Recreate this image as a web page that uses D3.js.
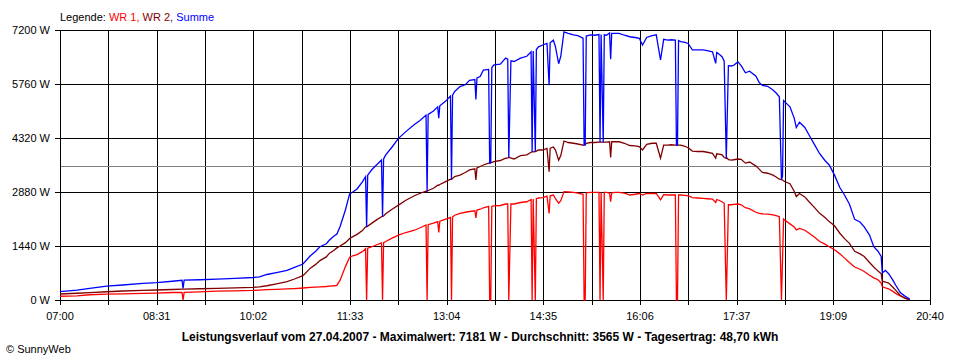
<!DOCTYPE html>
<html><head><meta charset="utf-8">
<script src="https://cdn.jsdelivr.net/npm/d3@7"></script>
<style>
body{margin:0;background:#fff}
svg{display:block}
text{font-family:"Liberation Sans",Arial,sans-serif}
</style>
</head><body>
<svg id="c" width="960" height="360"></svg>
<script>
// ---- data ----
const times = ["07:00","07:16","07:28","07:44","07:59","08:18","08:31","08:46","08:55","08:56","08:57","09:12","09:28","09:45","10:02","10:08","10:15","10:24","10:34","10:41","10:49","10:56","11:01","11:05","11:11","11:14","11:18","11:21","11:24","11:29","11:33","11:36","11:40","11:45","11:48","11:49","11:50","11:54","11:59","12:03","12:04","12:05","12:07","12:13","12:19","12:26","12:34","12:39","12:45","12:46","12:47","12:52","12:56","12:57","12:58","13:03","13:08","13:09","13:10","13:12","13:17","13:22","13:26","13:31","13:32","13:33","13:36","13:39","13:44","13:45","13:46","13:47","13:49","13:55","14:00","14:02","14:03","14:04","14:05","14:08","14:14","14:20","14:24","14:25","14:26","14:28","14:29","14:31","14:35","14:39","14:41","14:42","14:45","14:47","14:50","14:52","14:55","14:59","15:04","15:08","15:13","15:14","15:15","15:16","15:20","15:24","15:28","15:29","15:30","15:32","15:33","15:35","15:38","15:39","15:40","15:43","15:47","15:52","15:57","16:02","16:06","16:09","16:13","16:18","16:22","16:26","16:29","16:33","16:36","16:40","16:41","16:42","16:43","16:45","16:49","16:52","16:56","17:01","17:06","17:10","17:15","17:18","17:19","17:21","17:24","17:26","17:28","17:29","17:30","17:33","17:35","17:39","17:42","17:46","17:50","17:56","17:59","18:02","18:07","18:12","18:15","18:18","18:20","18:21","18:22","18:23","18:28","18:32","18:34","18:37","18:42","18:46","18:51","18:56","19:01","19:05","19:10","19:15","19:19","19:24","19:29","19:34","19:38","19:43","19:47","19:51","19:54","19:55","19:58","20:01","20:05","20:08","20:12","20:16","20:20","20:21"];
const wr1 = [100,110,140,155,165,178,185,200,205,0,205,215,235,245,255,265,275,285,295,305,320,335,345,350,360,370,380,390,530,890,1140,1180,1210,1290,1370,0,1380,1420,1480,1520,0,1530,1560,1650,1730,1800,1860,1920,2000,0,2010,2050,2090,1800,2100,2150,2200,0,2210,2260,2310,2340,2360,2380,2190,2400,2420,2460,2500,0,0,2500,2510,2520,2560,2560,0,1290,2560,2560,2600,2620,2680,0,2690,0,2700,2720,2730,2770,2310,2780,2800,2700,2580,2650,2890,2880,2870,2850,2820,0,0,2860,2870,2870,2870,0,2870,0,2870,2870,2850,2620,2860,2870,2870,2850,2800,2820,2840,2800,2840,2840,2840,2670,2810,2800,2800,2800,0,0,2800,2800,2790,2780,2730,2720,2710,2700,2690,2600,2680,2660,2620,2580,0,1240,2540,2540,2550,2560,2540,2460,2430,2340,2310,2300,2290,2270,2250,2220,0,1070,2160,2130,2030,1950,1870,1910,1860,1780,1680,1560,1490,1420,1340,1230,1130,1000,880,820,760,660,590,540,450,360,320,300,230,170,110,60,15,0];
const wr2 = [160,180,195,220,240,255,267,280,290,290,292,300,310,325,338,350,380,430,490,560,650,850,950,1050,1150,1250,1320,1390,1440,1530,1640,1690,1750,1850,1950,1950,1970,2050,2150,2220,2230,2240,2300,2420,2530,2660,2780,2840,2900,2900,2920,2980,3060,3060,3080,3150,3220,3220,3240,3290,3330,3400,3470,3500,3200,3520,3560,3600,3650,3650,3660,3670,3690,3720,3780,3790,3800,3800,3780,3760,3850,3870,3940,3950,3950,3960,3970,4000,4000,4040,3420,4050,4080,4000,3730,3850,4240,4200,4180,4160,4130,4130,4140,4180,4200,4200,4210,4210,4210,4210,4210,4210,4220,3800,4220,4220,4220,4180,4120,4110,4090,4000,4150,4180,4180,3780,4130,4130,4140,4130,4130,4130,4130,4130,4100,4060,3970,3960,3960,3940,3910,3780,3900,3890,3870,3800,3780,3780,3740,3730,3740,3760,3750,3650,3680,3570,3490,3400,3380,3330,3280,3220,3210,3200,3180,3160,3100,2900,2760,2840,2750,2620,2470,2310,2200,2090,1980,1780,1650,1510,1300,1230,1160,1000,880,770,700,500,480,450,340,250,120,50,15,0];
const summe = [225,265,310,370,400,445,465,500,525,310,530,540,555,575,600,615,680,730,790,870,960,1180,1300,1420,1500,1600,1700,1760,1960,2400,2830,2880,2960,3150,3290,1950,3330,3480,3620,3730,2230,3760,3870,4080,4310,4490,4680,4780,4930,2900,4950,5040,5150,4850,5180,5290,5440,3220,5460,5560,5690,5740,5860,5880,5350,5920,5960,6130,6150,3650,3660,6200,6270,6290,6450,6420,3800,5100,6380,6360,6450,6500,6620,3950,6640,3960,6680,6750,6800,6840,5730,6860,6930,6750,6300,6500,7150,7110,7070,7050,6980,4130,4140,7040,7070,7060,7080,4210,7080,4210,7070,7060,7120,6420,7110,7110,7110,7060,7020,7000,6980,6800,7000,7050,7070,6400,6950,6930,6940,6930,4130,4130,6920,6890,6870,6840,6670,6670,6670,6650,6620,6310,6600,6560,6490,6370,3780,5020,6250,6240,6260,6350,6250,6060,6100,5970,5800,5720,5700,5600,5520,5420,3210,3300,5320,5290,5150,4850,4600,4740,4600,4400,4150,3900,3720,3600,3330,3000,2820,2560,2150,2080,1950,1730,1420,1300,1160,720,790,700,530,380,200,110,40,15];
const yTicks = [0,1440,2880,4320,5760,7200];
const xTickLabels = ["07:00","08:31","10:02","11:33","13:04","14:35","16:06","17:37","19:09","20:40"];
const average = 3565;
const seriesNames = ["WR 1","WR 2","Summe"];
const seriesColors = ["#ff0000","#800000","#0000ff"];
const titleText = "Leistungsverlauf vom 27.04.2007 - Maximalwert: 7181 W - Durchschnitt: 3565 W - Tagesertrag: 48,70 kWh";
const creditText = "\u00A9 SunnyWeb";

// ---- drawing ----
const toMin = s => { const [h,m] = s.split(":").map(Number); return h*60+m; };
const svg = d3.select("#c");
const t0 = toMin(xTickLabels[0]), t1 = toMin(xTickLabels[xTickLabels.length-1]);
const x = d3.scaleLinear().domain([t0,t1]).range([60,930]);
const y = d3.scaleLinear().domain([0,7200]).range([300,30]);
const px = v => Math.round(v)+0.5;

const grid = svg.append("g").attr("shape-rendering","crispEdges").attr("stroke","#000").attr("stroke-width",1);
yTicks.forEach(v => {
  grid.append("line").attr("x1",55).attr("x2",x(t1)+0.5).attr("y1",px(y(v))).attr("y2",px(y(v)));
});
const nV = (xTickLabels.length-1)*2;
d3.range(nV+1).forEach(i => {
  const tv = t0 + i*(t1-t0)/nV;
  grid.append("line").attr("x1",px(x(tv))).attr("x2",px(x(tv))).attr("y1",y(7200)).attr("y2",305);
});
svg.append("line").attr("shape-rendering","crispEdges").attr("stroke","#808080")
  .attr("x1",px(x(t0))).attr("x2",px(x(t1))).attr("y1",px(y(average))).attr("y2",px(y(average)));

svg.append("g").selectAll("text").data(yTicks).join("text")
  .attr("x",50).attr("y",d=>y(d)+4).attr("text-anchor","end")
  .attr("font-size",11).attr("fill","#000").text(d=>d+" W");
svg.append("g").selectAll("text").data(xTickLabels).join("text")
  .attr("x",(d,i)=>x(t0 + i*(t1-t0)/(xTickLabels.length-1))).attr("y",320).attr("text-anchor","middle")
  .attr("font-size",11).attr("fill","#000").text(d=>d);

const tm = times.map(toMin);
const line = d3.line().x(d=>x(d[0])).y(d=>y(d[1]));
[wr1,wr2,summe].forEach((vals,k) => {
  svg.append("path").datum(tm.map((t,i)=>[t,vals[i]]))
    .attr("fill","none").attr("stroke",seriesColors[k]).attr("stroke-width",1.3)
    .attr("stroke-linejoin","miter").attr("d",line);
});

const lg = svg.append("text").attr("x",60).attr("y",21).attr("font-size",11);
lg.append("tspan").attr("fill","#000").text("Legende: ");
seriesNames.forEach((n,i)=>{
  lg.append("tspan").attr("fill",seriesColors[i]).text(n + (i<seriesNames.length-1 ? ", " : ""));
});

svg.append("text").attr("x",480).attr("y",341).attr("text-anchor","middle")
  .attr("font-size",12).attr("font-weight","bold").attr("fill","#000").text(titleText);
svg.append("text").attr("x",6).attr("y",353).attr("font-size",11).attr("fill","#000").text(creditText);
</script>
</body></html>
